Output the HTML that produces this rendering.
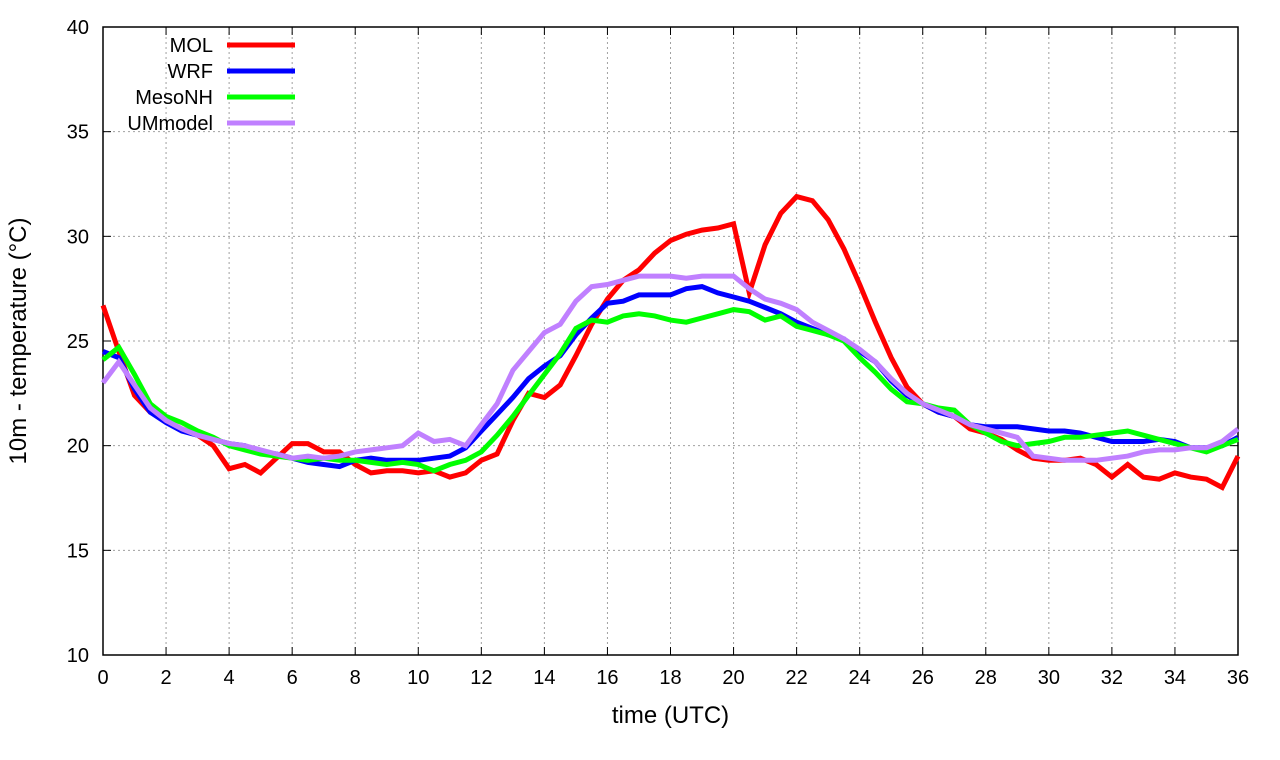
<!DOCTYPE html>
<html><head><meta charset="utf-8"><style>
body{margin:0;background:#fff;}
svg{display:block;font-family:"Liberation Sans",sans-serif;}
</style></head><body>
<svg id="chart" width="1280" height="760" viewBox="0 0 1280 760"></svg>
<script>
const xTicks=[0,2,4,6,8,10,12,14,16,18,20,22,24,26,28,30,32,34,36];
const yTicks=[10,15,20,25,30,35,40];
const seriesNames=["MOL","WRF","MesoNH","UMmodel"];
const seriesColors=["#ff0000","#0000ff","#00ff00","#c080ff"];
const mol=[26.7,24.5,22.4,21.6,21.2,20.8,20.5,20.0,18.9,19.1,18.7,19.4,20.1,20.1,19.7,19.7,19.1,18.7,18.8,18.8,18.7,18.8,18.5,18.7,19.3,19.6,21.2,22.5,22.3,22.9,24.3,25.8,27.0,27.9,28.4,29.2,29.8,30.1,30.3,30.4,30.6,27.3,29.6,31.1,31.9,31.7,30.8,29.4,27.7,25.9,24.2,22.8,22.0,21.6,21.4,20.8,20.6,20.3,19.8,19.4,19.3,19.3,19.4,19.1,18.5,19.1,18.5,18.4,18.7,18.5,18.4,18.0,19.5];
const wrf=[24.5,24.2,22.7,21.6,21.1,20.7,20.5,20.3,20.1,20.0,19.7,19.6,19.4,19.2,19.1,19.0,19.3,19.4,19.3,19.3,19.3,19.4,19.5,19.9,20.7,21.5,22.3,23.2,23.8,24.3,25.3,26.1,26.8,26.9,27.2,27.2,27.2,27.5,27.6,27.3,27.1,26.9,26.6,26.3,25.9,25.6,25.3,25.1,24.5,24.0,23.1,22.4,22.0,21.6,21.4,21.0,20.9,20.9,20.9,20.8,20.7,20.7,20.6,20.4,20.2,20.2,20.2,20.3,20.2,19.9,19.9,20.0,20.4];
const mesonh=[24.1,24.7,23.4,22.0,21.4,21.1,20.7,20.4,20.0,19.8,19.6,19.5,19.4,19.3,19.4,19.3,19.3,19.2,19.1,19.2,19.1,18.8,19.1,19.3,19.7,20.5,21.4,22.4,23.4,24.4,25.6,26.0,25.9,26.2,26.3,26.2,26.0,25.9,26.1,26.3,26.5,26.4,26.0,26.2,25.7,25.5,25.3,25.0,24.2,23.5,22.7,22.1,22.0,21.8,21.7,21.0,20.6,20.2,20.0,20.1,20.2,20.4,20.4,20.5,20.6,20.7,20.5,20.3,20.1,19.9,19.7,20.0,20.3];
const ummodel=[23.0,24.0,22.9,21.8,21.2,20.8,20.5,20.3,20.1,20.0,19.8,19.6,19.4,19.5,19.4,19.5,19.7,19.8,19.9,20.0,20.6,20.2,20.3,20.0,21.0,22.0,23.6,24.5,25.4,25.8,26.9,27.6,27.7,27.9,28.1,28.1,28.1,28.0,28.1,28.1,28.1,27.5,27.0,26.8,26.5,25.9,25.5,25.1,24.6,24.0,23.2,22.5,22.0,21.7,21.4,21.0,20.8,20.6,20.4,19.5,19.4,19.3,19.3,19.3,19.4,19.5,19.7,19.8,19.8,19.9,19.9,20.2,20.8];
const allSeries=[mol,wrf,mesonh,ummodel];

const L=103,R=1238,T=27,B=655;
const xs=v=>L+(v-0)/36*(R-L);
const ys=v=>B-(v-10)/30*(B-T);
const svg=document.getElementById('chart');
const NS="http://www.w3.org/2000/svg";
function mk(tag,attrs,parent){const e=document.createElementNS(NS,tag);for(const k in attrs)e.setAttribute(k,attrs[k]);(parent||svg).appendChild(e);return e;}

const grid=mk('g',{});


xTicks.forEach(t=>{
  const x=xs(t);
  if(t>0&&t<36){const g=mk('line',{x1:x,x2:x,y1:T,y2:B,stroke:'#a0a0a0','stroke-dasharray':'2,3'},grid);
  }
  mk('line',{x1:x,x2:x,y1:B,y2:B-8,stroke:'#000'});
  mk('line',{x1:x,x2:x,y1:T,y2:T+8,stroke:'#000'});
  const lb=mk('text',{x:x,y:B+29,'text-anchor':'middle','font-size':20});
  lb.textContent=t;
  
  
});
yTicks.forEach(t=>{
  const y=ys(t);
  if(t>10&&t<40){const g=mk('line',{x1:L,x2:R,y1:y,y2:y,stroke:'#a0a0a0','stroke-dasharray':'2,3'},grid);
  }
  mk('line',{x1:L,x2:L+8,y1:y,y2:y,stroke:'#000'});
  mk('line',{x1:R,x2:R-8,y1:y,y2:y,stroke:'#000'});
  const lb=mk('text',{x:L-14,y:y+7,'text-anchor':'end','font-size':20});
  lb.textContent=t;
  
  
});
const frame=mk('rect',{x:L,y:T,width:R-L,height:B-T,fill:'none',stroke:'#000','stroke-width':1.5});



allSeries.forEach((s,i)=>{
  const pts=s.map((v,j)=>xs(j*0.5).toFixed(1)+','+ys(v).toFixed(1)).join(' ');
  const p=mk('polyline',{points:pts,fill:'none',stroke:seriesColors[i],'stroke-width':5,'stroke-linejoin':'miter'});
  
  
});

seriesNames.forEach((n,i)=>{
  const y=45+i*26;
  const t=mk('text',{x:213,y:y+7,'text-anchor':'end','font-size':20});
  t.textContent=n;
  
  
  const l=mk('line',{x1:227,x2:295,y1:y,y2:y,stroke:seriesColors[i],'stroke-width':5});
  
  
});

const xt=mk('text',{x:(L+R)/2,y:723,'text-anchor':'middle','font-size':24});
xt.textContent='time (UTC)';


const yt=mk('text',{x:0,y:0,'text-anchor':'middle','font-size':24,transform:'translate(26,341) rotate(-90)'});
yt.textContent='10m - temperature (°C)';


</script>
</body></html>
